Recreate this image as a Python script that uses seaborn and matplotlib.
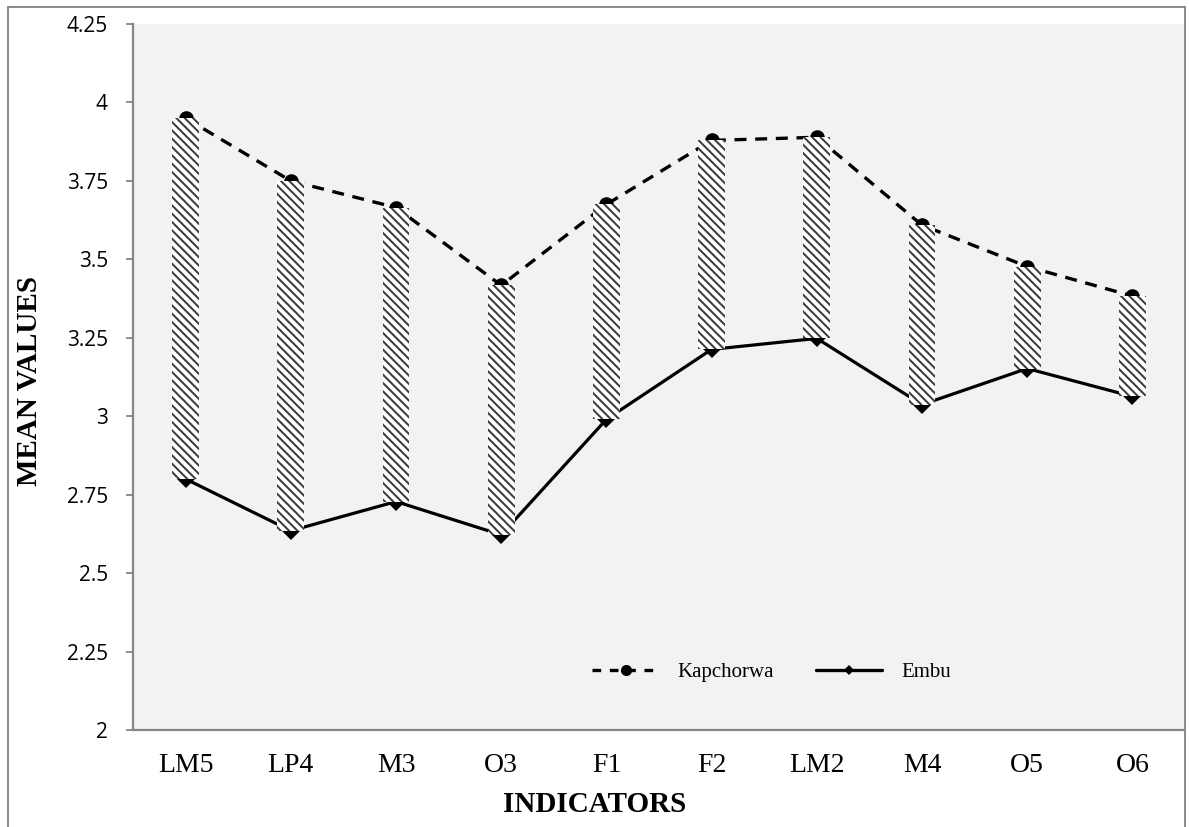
import matplotlib
matplotlib.use("Agg")
import matplotlib.pyplot as plt
import seaborn as sns
import pandas as pd
from matplotlib.lines import Line2D
from matplotlib.patches import Rectangle

categories = ["LM5", "LP4", "M3", "O3", "F1", "F2", "LM2", "M4", "O5", "O6"]
kapchorwa = [3.95, 3.75, 3.665, 3.417, 3.675, 3.879, 3.889, 3.609, 3.477, 3.383]
embu = [2.80, 2.635, 2.728, 2.622, 2.99, 3.213, 3.248, 3.037, 3.152, 3.063]
y_ticks = [2, 2.25, 2.5, 2.75, 3, 3.25, 3.5, 3.75, 4, 4.25]
y_ticklabels = ["2", "2.25", "2.5", "2.75", "3", "3.25", "3.5", "3.75", "4", "4.25"]

df = pd.DataFrame({"Indicator": categories, "Kapchorwa": kapchorwa, "Embu": embu})

sns.set_theme(style="white")
plt.rcParams["hatch.linewidth"] = 1.45
plt.rcParams["text.color"] = "black"

fig = plt.figure(figsize=(11.89, 8.27), dpi=100)
ax = fig.add_axes([133 / 1189, 1 - 730 / 827, (1185 - 133) / 1189, (730 - 24) / 827])
ax.set_facecolor("#f2f2f2")

sns.lineplot(data=df, x="Indicator", y="Kapchorwa", sort=False, color="black",
             linestyle=(0, (3.6, 2.6)), lw=2.4, marker="o", markersize=10.5,
             markeredgewidth=0, ax=ax, zorder=2)
sns.lineplot(data=df, x="Indicator", y="Embu", sort=False, color="black",
             linestyle="-", lw=2.3, marker="D", markersize=9,
             markeredgewidth=0, ax=ax, zorder=2)

# up-down bars
heights = [k - e for k, e in zip(kapchorwa, embu)]
ax.bar(categories, heights, bottom=embu, width=0.255, color="white",
       edgecolor="#3c3c3c", hatch="\\\\\\\\", linewidth=0, zorder=3)

ax.set_xlim(-0.5, len(categories) - 0.5)
ax.set_ylim(2, 4.25)
ax.set_yticks(y_ticks)
ax.set_yticklabels(y_ticklabels, fontfamily="Open Sans", fontsize=15, color="black")
ax.tick_params(axis="y", which="major", length=5, width=1.3, color="#868686",
               pad=13, left=True)
ax.tick_params(axis="x", length=0, pad=16.5)
for lab in ax.get_xticklabels():
    lab.set_fontfamily("Liberation Serif")
    lab.set_fontsize(20)
    lab.set_color("black")

for s in ["top", "right"]:
    ax.spines[s].set_visible(False)
for s in ["left", "bottom"]:
    ax.spines[s].set_color("#868686")
    ax.spines[s].set_linewidth(1.6)
ax.grid(False)
ax.set_xlabel("")
ax.set_ylabel("")

fig.text(595 / 1189, 1 - 804 / 827, "INDICATORS", ha="center", va="center",
         fontfamily="Liberation Serif", fontweight="bold", fontsize=21, color="black")
fig.text(30 / 1189, 1 - 381 / 827, "MEAN VALUES", ha="center", va="center",
         rotation=90, fontfamily="Liberation Serif", fontweight="bold", fontsize=21,
         color="black")

handles = [
    Line2D([], [], color="black", linestyle=(0, (2.6, 2.6)), lw=2.4, marker="o",
           markersize=8, markeredgewidth=0),
    Line2D([], [], color="black", linestyle="-", lw=2.4, marker="D",
           markersize=5, markeredgewidth=0),
]
leg = ax.legend(handles, ["Kapchorwa", "Embu"], ncol=2, frameon=False,
                loc="center", bbox_to_anchor=(0.607, 0.082),
                prop={"family": "Liberation Serif", "size": 15},
                handlelength=3.2, handletextpad=0.9, columnspacing=2.0)
for t in leg.get_texts():
    t.set_color("black")

fig.patches.append(Rectangle((8 / 1189, -0.05), (1185 - 8) / 1189, 1.05 - 7 / 827,
                             transform=fig.transFigure, fill=False,
                             edgecolor="#8a8a8a", linewidth=1.4, zorder=0))

fig.savefig("out.png", dpi=100)
